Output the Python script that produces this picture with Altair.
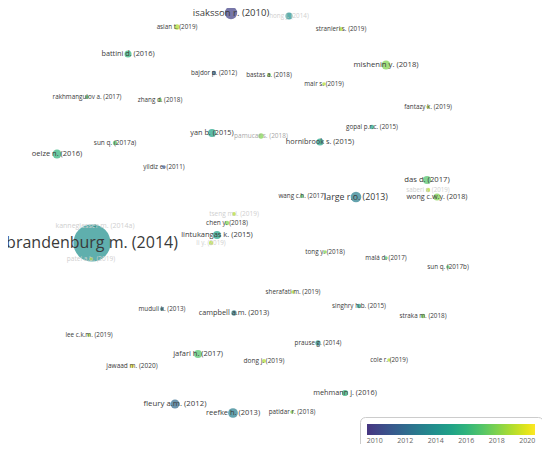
import math
import altair as alt
import pandas as pd

# VOSviewer-style map: label, map x, map y, publication year, node radius, label font size, label tone
labels = [
    "isaksson r. (2010)", "hong j. (2014)", "asian t. (2019)", "stranieri s. (2019)",
    "battini d. (2016)", "mishenin y. (2018)", "bajdor p. (2012)", "bastas a. (2018)",
    "mair s. (2019)", "rakhmangulov a. (2017)", "zhang d. (2018)", "fantazy k. (2019)",
    "yan b. (2015)", "pamucar s. (2018)", "gopal p.r.c. (2015)", "hornibrook s. (2015)",
    "sun q. (2017a)", "oelze n. (2016)", "yildiz e. (2011)", "das d. (2017)",
    "saberi s. (2019)", "wong c.w.y. (2018)", "large r.o. (2013)", "wang c.h. (2017)",
    "tseng m.l. (2019)", "chen y. (2018)", "brandenburg m. (2014)", "kannegiesser m. (2014a)",
    "patel a.b. (2019)", "lintukangas k. (2015)", "li y. (2019)", "tong y. (2018)",
    "malá d. (2017)", "sun q. (2017b)", "sherafati m. (2019)", "singhry h.b. (2015)",
    "muduli k. (2013)", "straka m. (2018)", "campbell a.m. (2013)", "lee c.k.m. (2019)",
    "prause g. (2014)", "jafari h. (2017)", "dong j. (2019)", "cole r. (2019)",
    "jawaad m. (2020)", "mehmann j. (2016)", "fleury a.m. (2012)", "reefke h. (2013)",
    "patidar r. (2018)",
]
xs = [231, 289, 177, 341, 128, 386, 214, 269, 324, 87, 160, 428, 212, 261, 372, 320,
      115, 57, 164, 427, 428, 437, 356, 302, 234, 227, 92, 95, 91, 217, 211, 325,
      386, 448, 293, 359, 162, 423, 234, 89, 318, 198, 264, 389, 132, 345, 175, 233, 292]
ys = [13, 16, 27, 29, 54, 65, 73, 75, 84, 97, 100, 107, 133, 136, 127, 142,
      143, 154, 167, 180, 190, 197, 197, 196, 214, 223, 243, 226, 259, 235, 243, 252,
      258, 267, 292, 306, 309, 316, 313, 335, 343, 354, 361, 360, 366, 393, 404, 413, 412]
years = [2010, 2014, 2019, 2019, 2016, 2018, 2012, 2018, 2019, 2017, 2018, 2019,
         2015, 2018, 2015, 2015, 2017, 2016, 2011, 2017, 2019, 2018, 2013, 2017,
         2019, 2018, 2014, 2014, 2019, 2015, 2019, 2018, 2017, 2017, 2019, 2015,
         2013, 2018, 2013, 2019, 2014, 2017, 2019, 2019, 2020, 2016, 2012, 2013, 2018]
radius = [7, 4, 3, 2.2, 4, 5, 2.5, 2.2, 2, 2.2, 2.2, 2, 4.5, 3, 2.5, 4,
          2.5, 5, 2, 4.5, 2.5, 4, 6, 2.2, 2.2, 2.5, 21, 2, 2, 4.5, 2.5, 2,
          2, 2, 2, 2.5, 2.2, 2.5, 3, 2, 3, 4.5, 2.2, 2, 2.2, 3.5, 5, 5.5, 2]
fsize = [9.5, 6.3, 6.3, 6.3, 7.3, 7.7, 6.3, 6.3, 6.3, 6.3, 6.3, 6.3, 7.3, 6.5, 6.3, 7.3,
         6.5, 7.5, 6.3, 7.7, 6.2, 7.2, 8.8, 6.3, 6.5, 6.5, 16, 7, 6.5, 7.5, 6.3, 6.3,
         6.3, 6.3, 6.3, 6.3, 6.3, 6.3, 7.3, 6.3, 6.3, 7.5, 6.5, 6.3, 6.5, 7.3, 7.8, 7.5, 6.3]
tone = ["n", "f", "n", "n", "n", "n", "n", "n", "n", "n", "n", "n", "n", "g", "n", "n",
        "n", "n", "n", "n", "f", "n", "n", "n", "f", "n", "n", "f", "f", "n", "f", "n",
        "n", "n", "n", "n", "n", "n", "n", "n", "n", "n", "n", "n", "n", "n", "n", "n", "n"]

tone_color = {"n": "#3a3a3a", "f": "#cfcfcf", "g": "#a8a8a8"}

df = pd.DataFrame({
    "label": labels, "x": xs, "y": ys, "year": years,
    "area": [math.pi * r * r for r in radius],
    "fs": fsize, "tc": [tone_color[t] for t in tone],
})

xsc = alt.Scale(domain=[8, 542], nice=False, zero=False)
ysc = alt.Scale(domain=[8, 444], nice=False, zero=False, reverse=True)

base = alt.Chart(df)

nodes = base.mark_circle(fillOpacity=0.72).encode(
    x=alt.X("x:Q", scale=xsc, axis=None),
    y=alt.Y("y:Q", scale=ysc, axis=None),
    size=alt.Size("area:Q", scale=None, legend=None),
    color=alt.Color(
        "year:Q",
        scale=alt.Scale(scheme=alt.SchemeParams(name="viridis", extent=[0.15, 1]),
                        domain=[2009.5, 2020.5], nice=False, zero=False),
        legend=alt.Legend(
            orient="none", legendX=352, legendY=409, direction="horizontal",
            gradientLength=168, gradientThickness=11, title=None,
            values=[2010, 2012, 2014, 2016, 2018, 2020], format="d",
            labelFontSize=7, labelColor="#666666", labelFont="Open Sans",
            fillColor="white", strokeColor="#cccccc", cornerRadius=5, padding=7,
            labelOverlap=False,
        ),
    ),
)

texts = base.mark_text(align="center", baseline="middle", font="Open Sans").encode(
    x=alt.X("x:Q", scale=xsc, axis=None),
    y=alt.Y("y:Q", scale=ysc, axis=None),
    text="label:N",
    size=alt.Size("fs:Q", scale=None, legend=None),
    color=alt.Color("tc:N", scale=None, legend=None),
)

chart = (nodes + texts).properties(
    width=534, height=436, padding=0,
    autosize=alt.AutoSizeParams(type="none"),
).configure_view(stroke=None).resolve_scale(color="independent", size="independent")

chart.save("out.html", embed_options={"renderer": "svg", "actions": False})
